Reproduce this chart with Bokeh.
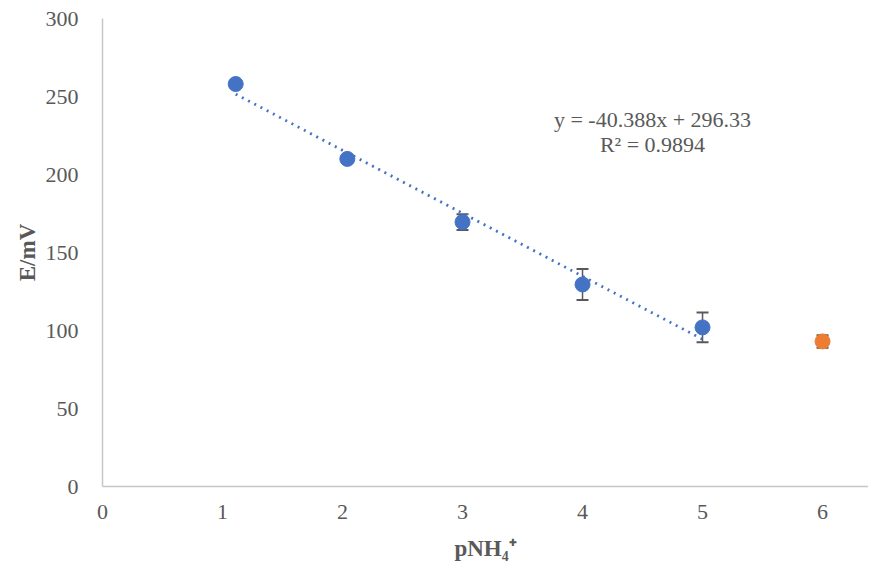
from bokeh.plotting import figure
from bokeh.models import ColumnDataSource, Whisker, TeeHead, Label, FixedTicker, Range1d
from bokeh.embed import file_html
from bokeh.resources import INLINE

# ---- data ----
x_blue = [1.11, 2.04, 3.0, 4.0, 5.0]
y_blue = [258.0, 210.0, 169.5, 129.5, 102.0]
err_blue = [2.0, 2.0, 5.0, 10.0, 9.5]

x_orange = [6.0]
y_orange = [93.0]
err_orange = [4.0]

slope = -40.388
intercept = 296.33
r2 = 0.9894

x_ticks = [0, 1, 2, 3, 4, 5, 6]
y_ticks = [0, 50, 100, 150, 200, 250, 300]

x_title = "pNH₄⁺"
y_title = "E/mV"

BLUE = "#4472C4"
ORANGE = "#ED7D31"
GRAY = "#595959"
AXIS = "#C6C6C6"
FONT = "Liberation Serif"

p = figure(width=868, height=566, output_backend="svg", toolbar_location=None,
           x_range=Range1d(0, 6.383), y_range=Range1d(0, 300),
           min_border_left=102, min_border_right=0, min_border_top=18, min_border_bottom=80)
p.outline_line_color = None
p.xgrid.visible = False
p.ygrid.visible = False

for ax in (p.xaxis[0], p.yaxis[0]):
    ax.axis_line_color = AXIS
    ax.axis_line_width = 1.5
    ax.major_tick_line_color = None
    ax.minor_tick_line_color = None
    ax.major_label_text_font = FONT
    ax.major_label_text_font_size = "22px"
    ax.major_label_text_color = GRAY
    ax.axis_label_text_font = FONT
    ax.axis_label_text_font_size = "23px"
    ax.axis_label_text_font_style = "bold"
    ax.axis_label_text_color = GRAY
p.xaxis[0].ticker = FixedTicker(ticks=x_ticks)
p.yaxis[0].ticker = FixedTicker(ticks=y_ticks)
p.xaxis[0].major_label_standoff = 12
p.yaxis[0].major_label_standoff = 18
p.xaxis[0].axis_label = x_title
p.yaxis[0].axis_label = y_title
p.xaxis[0].axis_label_standoff = 14
p.yaxis[0].axis_label_standoff = 3

# error bars
src_b = ColumnDataSource(dict(x=x_blue, y=y_blue,
                              lo=[v - e for v, e in zip(y_blue, err_blue)],
                              hi=[v + e for v, e in zip(y_blue, err_blue)]))
src_o = ColumnDataSource(dict(x=x_orange, y=y_orange,
                              lo=[v - e for v, e in zip(y_orange, err_orange)],
                              hi=[v + e for v, e in zip(y_orange, err_orange)]))
for s in (src_b, src_o):
    w = Whisker(source=s, base="x", upper="hi", lower="lo", dimension="height",
                line_color=GRAY, line_width=1.5,
                upper_head=TeeHead(size=12, line_color=GRAY, line_width=2),
                lower_head=TeeHead(size=12, line_color=GRAY, line_width=2))
    p.add_layout(w)

# trend line
tx = [x_blue[0], x_blue[-1]]
ty = [slope * v + intercept for v in tx]
p.line(tx, ty, line_color=BLUE, line_width=2.8, line_dash="2 5")

p.scatter("x", "y", source=src_b, size=15, color=BLUE)
p.scatter("x", "y", source=src_o, size=15, color=ORANGE)

# equation
p.add_layout(Label(x=4.583, y=235, text=f"y = {slope}x + {intercept}", text_align="center",
                   text_baseline="middle", text_font=FONT, text_font_size="22px", text_color=GRAY))
p.add_layout(Label(x=4.583, y=219, text=f"R² = {r2}", text_align="center",
                   text_baseline="middle", text_font=FONT, text_font_size="22px", text_color=GRAY))

open("out.html", "w").write(file_html(p, INLINE))
